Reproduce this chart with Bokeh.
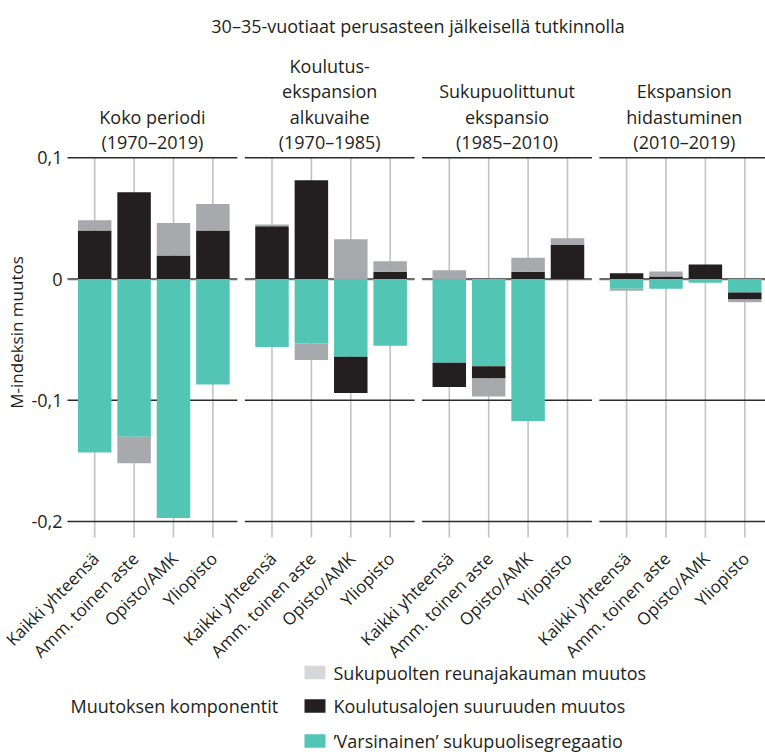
import math
from bokeh.plotting import figure
from bokeh.models import ColumnDataSource, Range1d
from bokeh.core.properties import value
from bokeh.embed import file_html
from bokeh.resources import INLINE

# ---------------- data ----------------
categories = ["Kaikki yhteensä", "Amm. toinen aste", "Opisto/AMK", "Yliopisto"]
period_titles = [
    ["Koko periodi", "(1970–2019)"],
    ["Koulutus-", "ekspansion", "alkuvaihe", "(1970–1985)"],
    ["Sukupuolittunut", "ekspansio", "(1985–2010)"],
    ["Ekspansion", "hidastuminen", "(2010–2019)"],
]
main_title = "30–35-vuotiaat perusasteen jälkeisellä tutkinnolla"
y_title = "M-indeksin muutos"
y_ticks = [-0.2, -0.1, 0, 0.1]
y_tick_labels = ["-0,2", "-0,1", "0", "0,1"]
legend_title = "Muutoksen komponentit"
component_names = [
    "Sukupuolten reunajakauman muutos",
    "Koulutusalojen suuruuden muutos",
    "’Varsinainen’ sukupuolisegregaatio",
]

# values per period (4 categories each), period order as in period_titles
varsinainen = [
    -0.143, -0.130, -0.197, -0.087,
    -0.056, -0.053, -0.064, -0.055,
    -0.069, -0.072, -0.117, 0.000,
    -0.008, -0.008, -0.003, -0.011,
]
koulutusalat = [
    0.0400, 0.0715, 0.0195, 0.0400,
    0.0435, 0.0815, -0.0300, 0.0060,
    -0.0200, -0.0100, 0.0060, 0.0280,
    0.0047, 0.0022, 0.0120, -0.0058,
]
reunajakauma = [
    0.0085, -0.0220, 0.0267, 0.0220,
    0.0015, -0.0137, 0.0328, 0.0087,
    0.0073, -0.0148, 0.0116, 0.0057,
    -0.0016, 0.0041, 0.0000, -0.0024,
]

# ---------------- style / geometry ----------------
TEAL = "#52c5b5"
BLACK = "#231f20"
GRAY = "#a7a9ac"
LEG_GRAY = "#d6d7d9"
TEXT = "#231f20"
FONT = value("Open Sans")

W, H = 765, 752
PX_X = 19.7      # pixels per x unit
PX_Y = 1212.5    # pixels per y unit
X0 = -1.38 - 67 / PX_X
X1 = X0 + W / PX_X
Y1 = 0.1 + 157.3 / PX_Y
Y0 = Y1 - H / PX_Y


def xd(px):
    return X0 + px / PX_X


def yd(py):
    return Y1 - py / PX_Y


P_LEFT, P_RIGHT = -1.38, 7.24   # panel extent relative to the panel's first bar
GRID_BOTTOM = yd(537)

p = figure(width=W, height=H, x_range=Range1d(X0, X1), y_range=Range1d(Y0, Y1),
           output_backend="svg", toolbar_location=None,
           min_border_left=0, min_border_right=0, min_border_top=0, min_border_bottom=0)
p.outline_line_color = None
p.axis.visible = False
p.xgrid.visible = False
p.ygrid.visible = False
p.background_fill_color = "white"
p.border_fill_color = "white"

n_p = len(period_titles)
n_c = len(categories)
xs = [9 * pi + 2 * ci for pi in range(n_p) for ci in range(n_c)]

# vertical lines at categories
p.segment(x0=xs, y0=[max(y_ticks)] * len(xs), x1=xs, y1=[GRID_BOTTOM] * len(xs),
          line_color="#c2c3c5", line_width=1.6)

# horizontal lines per panel
hx0, hx1, hy, hc, hw = [], [], [], [], []
for pi in range(n_p):
    for t in y_ticks:
        hx0.append(9 * pi + P_LEFT)
        hx1.append(9 * pi + P_RIGHT)
        hy.append(t)
        hc.append("#6b6b6b" if t == 0 else "#2b2b2b")
        hw.append(2.2 if t == 0 else 1.5)
p.segment(x0=hx0, y0=hy, x1=hx1, y1=hy, line_color=hc, line_width=hw)

# stacked (diverging) bars
pos = [0.0] * len(xs)
neg = [0.0] * len(xs)
for vals, color in [(varsinainen, TEAL), (koulutusalat, BLACK), (reunajakauma, GRAY)]:
    bottoms, tops = [], []
    for i, v in enumerate(vals):
        if v >= 0:
            b = pos[i]
            t = b + v
            pos[i] = t
        else:
            t = neg[i]
            b = t + v
            neg[i] = b
        bottoms.append(b)
        tops.append(t)
    src = ColumnDataSource(data=dict(x=xs, bottom=bottoms, top=tops))
    p.vbar(x="x", bottom="bottom", top="top", width=1.7, source=src,
           fill_color=color, line_color=None)

# y tick labels
p.text(x=[P_LEFT] * len(y_ticks), y=y_ticks, text=y_tick_labels, x_offset=-5,
       text_align="right", text_baseline="middle", text_font=FONT,
       text_font_size="18px", text_color=TEXT)

# y title
p.text(x=[xd(16)], y=[yd(332)], text=[y_title], angle=math.pi / 2,
       text_align="center", text_baseline="middle", text_font=FONT,
       text_font_size="17px", text_color=TEXT)

# category labels (rotated)
p.text(x=xs, y=[yd(555)] * len(xs), text=[categories[i % n_c] for i in range(len(xs))],
       angle=math.pi / 4, x_offset=1, text_align="right", text_baseline="middle",
       text_font=FONT, text_font_size="17px", text_color=TEXT)

# main title
p.text(x=[xd(417.5)], y=[yd(25)], text=[main_title], text_align="center",
       text_baseline="alphabetic", text_font=FONT, text_font_size="18px",
       text_color=TEXT)

# panel titles
tx, ty, tt = [], [], []
for pi, lines in enumerate(period_titles):
    cx = 9 * pi + (P_LEFT + P_RIGHT) / 2
    n = len(lines)
    for li, line in enumerate(lines):
        tx.append(cx)
        ty.append(yd(141.7 - (n - 1 - li) * 25.4))
        tt.append(line)
p.text(x=tx, y=ty, text=tt, text_align="center", text_baseline="alphabetic",
       text_font=FONT, text_font_size="18px", text_color=TEXT)

# legend
leg_y = [yd(672), yd(705.5), yd(740.5)]
p.rect(x=[xd(314.5)] * 3, y=leg_y, width=21, height=13.5, width_units="screen",
       height_units="screen", fill_color=[LEG_GRAY, BLACK, TEAL], line_color=None)
p.text(x=[xd(333)] * 3, y=leg_y, text=component_names, text_align="left",
       text_baseline="middle", text_font=FONT, text_font_size="18px", text_color=TEXT)
p.text(x=[xd(70)], y=[yd(705.5)], text=[legend_title], text_align="left",
       text_baseline="middle", text_font=FONT, text_font_size="18px", text_color=TEXT)

open("out.html", "w").write(file_html(p, INLINE))
